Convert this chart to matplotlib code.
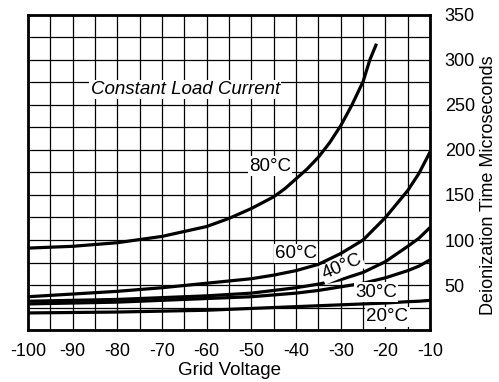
import matplotlib
matplotlib.use('Agg')
import matplotlib.pyplot as plt
from matplotlib.ticker import MultipleLocator

plt.rcParams['font.family'] = ['Liberation Sans', 'DejaVu Sans']
plt.rcParams['axes.unicode_minus'] = False

# grid voltage (V) vs deionization time (microseconds)
volts = [-100, -90, -80, -70, -60, -50, -45, -40, -35, -30, -25, -20, -15, -12.5, -10]
t20 = [19, 19.5, 20, 21, 22, 24, 25, 26, 27, 28, 29, 30, 31.5, 32, 33]
t30 = [29, 30, 31, 33, 35, 37, 39, 41, 44, 48, 52, 58, 66, 71, 78]
t40 = [32, 33, 34, 36, 38, 41, 44, 47, 51, 56, 64, 76, 93, 102, 114]
t60 = [37, 40, 43, 47, 52, 57, 61, 66, 73, 85, 100, 125, 155, 174, 198]

volts80 = [-100, -90, -80, -70, -60, -55, -50, -45, -42.5, -40, -37.5, -35,
           -32.5, -30, -27.5, -25, -23.5, -22]
t80 = [91, 93, 97, 104, 115, 124, 135, 148, 157, 168, 179, 192,
       208, 227, 250, 276, 300, 318]

fig = plt.figure(figsize=(4.99, 3.82), dpi=100)
ax = fig.add_axes([0.056, 0.136, 0.806, 0.825])

for t in (t20, t30, t40, t60):
    ax.plot(volts, t, color='black', lw=2.3, solid_capstyle='butt')
ax.plot(volts80, t80, color='black', lw=2.3, solid_capstyle='butt')

ax.set_xlim(-100, -10)
ax.set_ylim(0, 350)
ax.xaxis.set_major_locator(MultipleLocator(10))
ax.xaxis.set_minor_locator(MultipleLocator(5))
ax.set_yticks(range(50, 351, 50))
ax.yaxis.set_minor_locator(MultipleLocator(25))
ax.grid(which='both', color='black', lw=0.9)
ax.set_axisbelow(True)

ax.yaxis.tick_right()
ax.yaxis.set_label_position('right')
ax.tick_params(which='both', length=0, labelsize=13)
ax.tick_params(axis='x', pad=9)
ax.tick_params(axis='y', pad=10.5)
for s in ax.spines.values():
    s.set_linewidth(2)

ax.set_xlabel('Grid Voltage', fontsize=13.5, labelpad=2)
ax.set_ylabel('Deionization Time Microseconds', fontsize=13,
              rotation=90, ha='center', va='center', rotation_mode='anchor')
ax.yaxis.set_label_coords(1.145, 0.46)

box = dict(facecolor='white', edgecolor='none', pad=1)
ax.text(-86, 267, 'Constant Load Current', fontsize=13.5, style='italic',
        ha='left', va='center', bbox=box)
ax.text(-45.8, 182, '80°C', fontsize=13.5, ha='center', va='center', bbox=box)
ax.text(-40, 85, '60°C', fontsize=13.5, ha='center', va='center', bbox=box)
ax.text(-29.7, 70, '40°C', fontsize=13.5, ha='center', va='center',
        rotation=23, bbox=box)
ax.text(-22.1, 42, '30°C', fontsize=13.5, ha='center', va='center', bbox=box)
ax.text(-19.6, 14.5, '20°C', fontsize=13.5, ha='center', va='center', bbox=box)

fig.savefig('out.png', dpi=100)
